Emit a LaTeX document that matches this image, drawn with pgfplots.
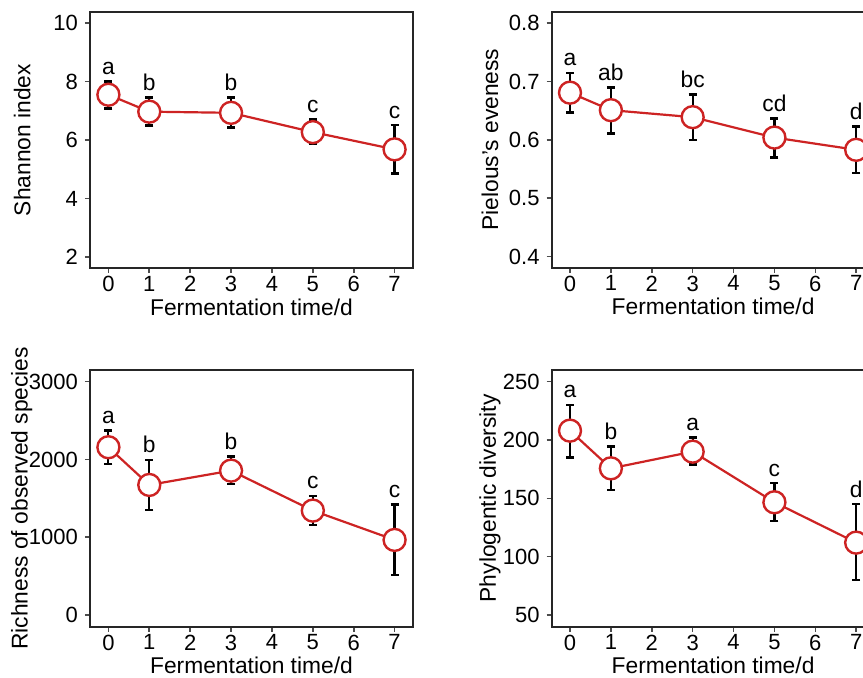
\documentclass[border=0pt]{standalone}
\usepackage{pgfplots}
\pgfplotsset{compat=1.18}
\usepackage{fontspec}
\setmainfont{Liberation Sans}
\definecolor{myred}{RGB}{205,35,35}
\pgfplotsset{
 panel/.style={
  width=161.5pt, height=128pt, scale only axis,
  xmin=-0.45, xmax=7.45, xtick={0,...,7},
  tick align=outside, tick pos=left,
  major tick length=2.5pt,
  axis line style={line width=1pt, draw=black!85},
  every tick/.style={line width=0.8pt, black!70},
  tick label style={font=\fontsize{11}{13}\selectfont},
  xticklabel style={yshift=2pt},
  label style={font=\fontsize{11.4}{13}\selectfont},
  /pgf/number format/assume math mode=true,
  /pgf/number format/1000 sep={},
  xlabel={Fermentation time/d},
  xlabel style={at={(axis description cs:0.5,0)}, anchor=base, yshift=-23.6pt, inner sep=0pt},
 },
 ser/.style={myred, line width=1.1pt, mark=*, mark size=5.5pt,
  mark options={fill=white, draw=myred, line width=1.2pt},
  error bars/.cd, y dir=both, y explicit,
  error bar style={black, line width=1.1pt},
  error mark options={rotate=90, black, mark size=2pt, line width=1.3pt}},
}
\tikzset{lab/.style={anchor=base, yshift=3.5pt, font=\fontsize{11.4}{13}\selectfont}}
\pgfplotstableread{
x y ep em
0 7.55 0.45 0.47
1 6.97 0.48 0.48
3 6.93 0.53 0.50
5 6.27 0.44 0.38
7 5.68 0.83 0.82
}\shannon
\pgfplotstableread{
x y ep em
0 0.681 0.034 0.034
1 0.651 0.039 0.040
3 0.639 0.039 0.039
5 0.604 0.033 0.034
7 0.583 0.040 0.040
}\pielou
\pgfplotstableread{
x y ep em
0 2157 213 215
1 1672 322 321
3 1856 180 171
5 1342 188 184
7 965 459 450
}\richness
\pgfplotstableread{
x y ep em
0 208 22 23
1 175.7 18.6 18.7
3 190 12 11
5 146.6 16.4 16
7 112 33 32
}\phylo
\begin{document}
\begin{tikzpicture}
\useasboundingbox (0,0) rectangle (431.5pt,338.5pt);
\begin{scope}
\clip (0,0) rectangle (431.5pt,338.5pt);
% Panel 1
\begin{axis}[panel, at={(45pt,204.5pt)}, anchor=south west,
  ymin=1.62, ymax=10.38, ytick={2,4,6,8,10},
  ylabel={Shannon index},
  ylabel style={at={(axis description cs:-0.21,0.5)}, anchor=center}]
\addplot[ser] table[x=x, y=y, y error plus=ep, y error minus=em] {\shannon};
\node[lab] at (axis cs:0,8.0) {a};
\node[lab] at (axis cs:1,7.45) {b};
\node[lab] at (axis cs:3,7.46) {b};
\node[lab] at (axis cs:5,6.71) {c};
\node[lab] at (axis cs:7,6.51) {c};
\end{axis}
% Panel 2
\begin{axis}[panel, at={(275.8pt,204.7pt)}, anchor=south west,
  ymin=0.381, ymax=0.82, ytick={0.4,0.5,0.6,0.7,0.8},
  yticklabel style={/pgf/number format/fixed, /pgf/number format/precision=1, /pgf/number format/fixed zerofill},
  ylabel={Pielous's eveness},
  ylabel style={at={(axis description cs:-0.191,0.5)}, anchor=center}]
\addplot[ser] table[x=x, y=y, y error plus=ep, y error minus=em] {\pielou};
\node[lab] at (axis cs:0,0.715) {a};
\node[lab] at (axis cs:1,0.690) {ab};
\node[lab] at (axis cs:3,0.678) {bc};
\node[lab] at (axis cs:5,0.637) {cd};
\node[lab] at (axis cs:7,0.623) {d};
\end{axis}
% Panel 3
\begin{axis}[panel, at={(45pt,25.2pt)}, anchor=south west, height=128.3pt,
  ymin=-150, ymax=3150, ytick={0,1000,2000,3000},
  scaled y ticks=false,
  ylabel={Richness of observed species},
  ylabel style={at={(axis description cs:-0.211,0.5)}, anchor=center}]
\addplot[ser] table[x=x, y=y, y error plus=ep, y error minus=em] {\richness};
\node[lab] at (axis cs:0,2370) {a};
\node[lab] at (axis cs:1,1994) {b};
\node[lab] at (axis cs:3,2036) {b};
\node[lab] at (axis cs:5,1530) {c};
\node[lab] at (axis cs:7,1424) {c};
\end{axis}
% Panel 4
\begin{axis}[panel, at={(275.8pt,25.2pt)}, anchor=south west, height=128.3pt,
  ymin=40, ymax=260, ytick={50,100,150,200,250},
  ylabel={Phylogentic diversity},
  ylabel style={at={(axis description cs:-0.191,0.5)}, anchor=center}]
\addplot[ser] table[x=x, y=y, y error plus=ep, y error minus=em] {\phylo};
\node[lab] at (axis cs:0,230) {a};
\node[lab] at (axis cs:1,194.3) {b};
\node[lab] at (axis cs:3,202) {a};
\node[lab] at (axis cs:5,163) {c};
\node[lab] at (axis cs:7,145) {d};
\end{axis}
\end{scope}
\end{tikzpicture}
\end{document}
